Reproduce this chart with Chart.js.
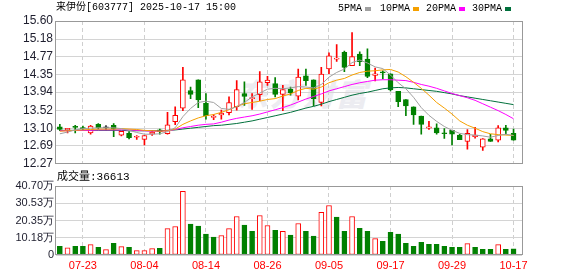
<!DOCTYPE html>
<html><head><meta charset="utf-8">
<script src="https://cdn.jsdelivr.net/npm/chart.js@4/dist/chart.umd.min.js"></script>
<style>
body{margin:0;background:#fff;}
#wrap{position:relative;width:578px;height:276px;overflow:hidden;background:#fff;}
canvas{position:absolute;left:0;z-index:1;}
.t{position:absolute;white-space:nowrap;font-family:"Liberation Mono","Noto Sans CJK SC",monospace;color:#000;z-index:2;line-height:12px;}
.sq{position:absolute;width:6px;height:4px;top:7px;z-index:2;}
#wm{position:absolute;left:237px;top:70px;font-family:"Noto Sans CJK SC",sans-serif;font-weight:900;font-size:31px;letter-spacing:2px;color:#ececf1;z-index:0;font-style:italic;}
</style></head><body>
<div id="wrap">
<div id="wm">东方财富</div>
<canvas id="pc" width="578" height="174" style="top:0"></canvas>
<canvas id="vc" width="578" height="106" style="top:170px"></canvas>
<div class="t" style="left:56px;top:2px;font-size:10px;">来伊份[603777] 2025-10-17 15:00</div>
<div class="t" style="left:338px;top:3px;font-size:10px;">5PMA</div><div class="sq" style="left:365px;background:#a0a0a0"></div>
<div class="t" style="left:380px;top:3px;font-size:10px;">10PMA</div><div class="sq" style="left:413px;background:#f5a000"></div>
<div class="t" style="left:426px;top:3px;font-size:10px;">20PMA</div><div class="sq" style="left:459px;background:#ff00ff"></div>
<div class="t" style="left:472px;top:3px;font-size:10px;">30PMA</div><div class="sq" style="left:505px;background:#00703c"></div>
<div class="t" style="left:57px;top:171px;font-size:11px;">成交量:36613</div>
</div>
<script>
const dates = ['07-18','07-21','07-22','07-23','07-24','07-25','07-28','07-29','07-30','07-31',
 '08-01','08-04','08-05','08-06','08-07','08-08','08-11','08-12','08-13','08-14',
 '08-15','08-18','08-19','08-20','08-21','08-22','08-25','08-26','08-27','08-28',
 '08-29','09-01','09-02','09-03','09-04','09-05','09-08','09-09','09-10','09-11',
 '09-12','09-15','09-16','09-17','09-18','09-19','09-22','09-23','09-24','09-25',
 '09-26','09-29','09-30','10-09','10-10','10-13','10-14','10-15','10-16','10-17'];
const dateTicks = ['07-23','08-04','08-14','08-26','09-05','09-17','09-29','10-17'];
const opens  = [13.13,13.06,13.13,13.11,12.99,13.19,13.11,13.17,12.94,12.98,
 12.89,12.84,12.96,13.06,12.97,13.25,13.57,13.98,14.23,13.68,
 13.35,13.41,13.46,13.60,13.91,13.79,13.88,14.16,14.14,13.89,
 14.01,13.85,14.32,14.23,13.70,14.48,14.71,14.87,14.56,14.83,
 14.71,14.33,14.41,14.37,13.96,13.77,13.60,13.38,13.10,13.11,
 12.98,13.05,12.94,12.79,12.90,12.66,12.85,12.82,13.11,12.98];
const highs  = [13.19,13.10,13.17,13.15,13.17,13.21,13.16,13.21,13.03,13.02,
 12.93,12.93,13.04,13.08,13.47,13.60,14.52,14.06,14.23,13.91,
 13.42,13.52,13.83,14.21,14.18,13.91,14.42,14.31,14.28,14.10,
 14.06,14.48,14.48,14.23,14.52,14.86,15.05,14.90,15.33,14.88,
 14.95,14.50,14.44,14.37,13.96,13.77,13.60,13.38,13.26,13.20,
 13.09,13.05,12.96,13.07,13.12,12.86,12.96,13.16,13.17,13.08];
const lows   = [13.04,12.99,12.99,13.06,12.96,13.08,13.06,12.90,12.92,12.85,
 12.84,12.71,12.93,12.96,12.96,13.18,13.51,13.79,13.58,13.31,
 13.30,13.31,13.41,13.52,13.63,13.54,13.74,14.10,13.83,13.51,
 13.87,13.76,14.10,13.62,13.62,14.37,14.66,14.42,14.56,14.56,
 14.28,14.20,14.25,13.97,13.60,13.39,13.19,12.96,13.07,12.96,
 12.86,12.71,12.83,12.61,12.87,12.58,12.79,12.78,12.96,12.82];
const closes = [13.07,13.10,13.12,13.09,13.15,13.11,13.11,13.08,13.03,12.88,
 12.90,12.93,13.01,13.02,13.18,13.40,14.23,13.89,13.76,13.39,
 13.38,13.45,13.70,14.00,13.84,13.80,14.18,14.22,13.89,14.00,
 13.93,14.29,14.21,13.79,14.36,14.79,14.73,14.52,14.77,14.65,
 14.31,14.37,14.39,13.99,13.72,13.62,13.41,13.19,13.13,12.99,
 12.97,12.96,12.83,12.98,12.94,12.85,12.79,13.11,13.05,12.82];
const volumes = [5.1,4.3,5.1,5.1,6.1,4.5,3.2,6.9,4.9,4.5,
 2.6,2.6,3.8,4.0,15.6,16.8,37.5,18.2,17.0,12.3,
 10.5,11.5,15.6,22.7,17.6,14.0,23.3,17.4,14.6,14.0,
 11.7,18.6,14.0,11.1,25.1,29.2,22.3,14.0,22.7,15.8,
 14.0,9.7,8.1,13.4,12.3,6.9,5.1,7.5,6.3,6.3,
 5.1,4.5,4.5,6.7,4.5,3.4,3.4,6.1,3.4,3.66];
const volUp = [0,1,0,0,1,0,1,0,1,0, 1,1,1,0,1,1,1,0,0,0, 0,1,1,1,0,0,1,1,0,1,
 0,1,0,0,1,1,0,0,1,0, 0,1,0,0,0,0,0,0,0,0, 0,0,0,1,0,0,0,1,0,0];
const ma5  = [12.97,13.01,13.06,13.09,13.10,13.11,13.11,13.11,13.09,13.05,
 13.00,12.96,12.96,12.97,13.02,13.11,13.37,13.56,13.70,13.73,
 13.70,13.56,13.54,13.60,13.70,13.83,13.92,14.01,14.03,14.02,
 14.04,14.07,14.06,14.04,14.12,14.29,14.40,14.48,14.63,14.69,
 14.62,14.53,14.49,14.34,14.16,14.02,13.82,13.58,13.40,13.26,
 13.14,13.05,12.98,12.95,12.94,12.92,12.89,12.93,12.96,12.93];
const ma10 = [13.03,13.04,13.05,13.06,13.07,13.08,13.08,13.08,13.09,13.08,
 13.07,13.05,13.04,13.03,13.04,13.08,13.19,13.27,13.34,13.39,
 13.42,13.47,13.53,13.61,13.67,13.70,13.73,13.77,13.79,13.85,
 13.90,13.98,14.03,14.01,14.06,14.16,14.22,14.26,14.34,14.40,
 14.43,14.44,14.46,14.47,14.41,14.30,14.17,14.03,13.87,13.70,
 13.57,13.43,13.27,13.17,13.10,13.02,12.97,12.95,12.94,12.93];
const ma20 = [13.04,13.04,13.05,13.05,13.05,13.06,13.06,13.06,13.06,13.06,
 13.05,13.04,13.03,13.03,13.04,13.07,13.11,13.14,13.17,13.19,
 13.20,13.24,13.29,13.33,13.36,13.39,13.43,13.48,13.53,13.58,
 13.64,13.71,13.78,13.84,13.90,13.97,14.02,14.07,14.12,14.16,
 14.19,14.22,14.23,14.23,14.22,14.21,14.17,14.12,14.08,14.03,
 13.97,13.91,13.86,13.81,13.75,13.67,13.59,13.51,13.42,13.32];
const ma30 = [13.05,13.05,13.05,13.05,13.05,13.05,13.05,13.05,13.05,13.04,
 13.04,13.04,13.04,13.04,13.05,13.06,13.08,13.10,13.12,13.14,
 13.16,13.17,13.19,13.21,13.24,13.27,13.31,13.35,13.39,13.43,
 13.47,13.52,13.57,13.61,13.66,13.72,13.77,13.82,13.87,13.91,
 13.94,13.98,14.02,14.04,14.05,14.04,14.02,14.00,13.98,13.96,
 13.93,13.90,13.86,13.83,13.80,13.77,13.74,13.71,13.68,13.65];
const priceTicks = [12.27,12.69,13.10,13.52,13.94,14.35,14.77,15.18,15.60];
const volTicks = [0,10.18,20.35,30.53,40.70];
const volTickLabels = ['0','10.18万','20.35万','30.53万','40.70万'];

const RED='#ff0000', GREEN='#008000', DOJI='#333333';
const tickIdx = dateTicks.map(d => dates.indexOf(d));
const candleColor = closes.map((c,i) => c > opens[i] ? RED : (c < opens[i] ? GREEN : DOJI));
const xy = arr => arr.map((v,i) => ({x:i, y:v}));

const framePlugin = {
  id:'frame',
  afterDraw(chart){
    const {ctx, chartArea:a} = chart;
    ctx.save();
    ctx.strokeStyle='#999999'; ctx.lineWidth=1;
    const l=Math.round(a.left)-0.5, r=Math.round(a.right)+0.5, t=Math.round(a.top)+0.5, b=Math.round(a.bottom)-0.5;
    ctx.strokeRect(l,t,r-l,b-t);
    ctx.restore();
  }
};

const xBase = {
  type:'linear', min:-0.5, max:60.1, offset:false,
  afterBuildTicks: s => { s.ticks = tickIdx.map(v => ({value:v})); },
  grid:{color:'#cfcfcf', drawTicks:false, offset:false},
  border:{display:false, dash:[4,3]}
};

Chart.defaults.font.family = 'Liberation Sans';

new Chart(document.getElementById('pc'), {
  type:'bar',
  data:{ datasets:[
    {type:'line', data:xy(ma5), borderColor:'#a0a0a0', borderWidth:1, pointRadius:0, order:0},
    {type:'line', data:xy(ma10), borderColor:'#f5a000', borderWidth:1, pointRadius:0, order:0},
    {type:'line', data:xy(ma20), borderColor:'#ff00ff', borderWidth:1, pointRadius:0, order:0},
    {type:'line', data:xy(ma30), borderColor:'#00703c', borderWidth:1, pointRadius:0, order:0},
    {type:'bar', data:opens.map((o,i)=>({x:i, y:[o, closes[i]]})), grouped:false, barThickness:5,
      minBarLength:1, borderSkipped:false, borderWidth:1,
      backgroundColor: closes.map((c,i)=> c>opens[i] ? '#ffffff' : candleColor[i]),
      borderColor: candleColor, order:1},
    {type:'bar', data:lows.map((l,i)=>({x:i, y:[l, highs[i]]})), grouped:false, barThickness:1,
      borderWidth:0, backgroundColor: candleColor, order:2}
  ]},
  options:{
    responsive:false, devicePixelRatio:1, animation:false, events:[],
    layout:{padding:{top:21, right:56, bottom:9, left:0}},
    plugins:{legend:{display:false}, tooltip:{enabled:false}},
    scales:{
      x:Object.assign({}, xBase, {ticks:{display:false}, afterFit: s => { s.height = 0; }}),
      y:{type:'linear', min:12.27, max:15.60, beginAtZero:false,
        afterBuildTicks: s => { s.ticks = priceTicks.map(v => ({value:v})); },
        afterFit: s => { s.width = 56; },
        ticks:{callback: v => v.toFixed(2), font:{size:12}, color:'#1e1e2e', padding:3},
        grid:{color:'#d4d4d4', drawTicks:false},
        border:{display:false}}
    }
  },
  plugins:[framePlugin]
});

new Chart(document.getElementById('vc'), {
  type:'bar',
  data:{ datasets:[
    {type:'bar', data:volumes.map((v,i)=>({x:i, y:[0, v]})), grouped:false, barThickness:5,
      borderSkipped:false, borderWidth:1,
      backgroundColor: volUp.map(u => u ? '#ffffff' : GREEN),
      borderColor: volUp.map(u => u ? RED : GREEN)}
  ]},
  options:{
    responsive:false, devicePixelRatio:1, animation:false, events:[],
    layout:{padding:{top:16, right:56, bottom:0, left:0}},
    plugins:{legend:{display:false}, tooltip:{enabled:false}},
    scales:{
      x:Object.assign({}, xBase, {
        ticks:{autoSkip:false, maxRotation:0, padding:4, color:'#ff0000', font:{size:11},
          callback: v => dates[v]},
        afterFit: s => { s.height = 21; }}),
      y:{type:'linear', min:0, max:40.70, beginAtZero:false,
        afterBuildTicks: s => { s.ticks = volTicks.map(v => ({value:v})); },
        afterFit: s => { s.width = 56; },
        ticks:{callback: (v,i) => volTickLabels[i], font:{size:11}, color:'#1e1e2e', padding:2},
        grid:{color:'#d4d4d4', drawTicks:false},
        border:{display:false}}
    }
  },
  plugins:[framePlugin]
});
</script>
</body></html>
